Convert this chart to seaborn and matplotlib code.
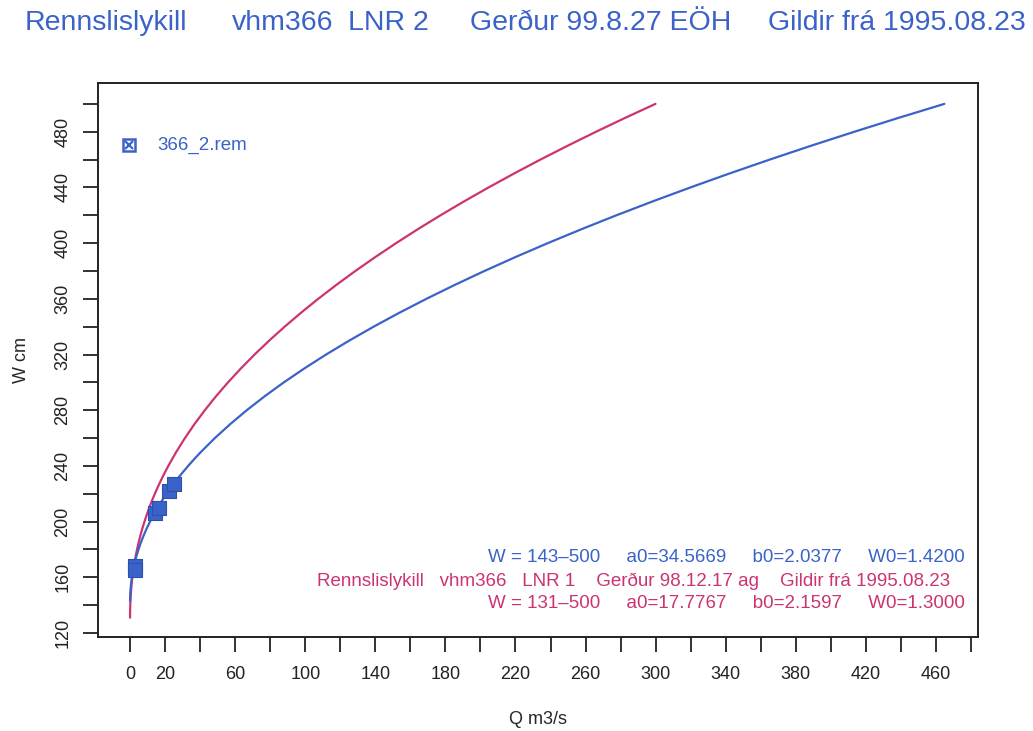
import numpy as np
import pandas as pd
import matplotlib
matplotlib.use('Agg')
import matplotlib.pyplot as plt
import seaborn as sns
from matplotlib.ticker import MultipleLocator, FixedLocator

# Rating curve LNR 2 (blue), W in cm, Q in m3/s
w_lnr2 = [143, 144, 145, 147, 150, 152, 155, 157, 160, 165, 170, 175, 180, 185, 190,
          195, 200, 205, 210, 215, 220, 225, 230, 235, 240, 245, 250, 260, 270, 280,
          290, 300, 310, 320, 330, 340, 350, 360, 370, 380, 390, 400, 410, 420, 430,
          440, 450, 460, 470, 480, 490, 500]
q_lnr2 = [0.003, 0.012, 0.027, 0.077, 0.20, 0.32, 0.54, 0.73, 1.05, 1.73, 2.58, 3.61,
          4.81, 6.19, 7.75, 9.48, 11.39, 13.48, 15.75, 18.20, 20.84, 23.65, 26.64,
          29.82, 33.17, 36.71, 40.44, 48.43, 57.16, 66.64, 76.84, 87.79, 99.49,
          111.93, 125.12, 139.06, 153.74, 169.17, 185.38, 202.31, 220.01, 238.47,
          257.68, 277.63, 298.37, 319.87, 342.13, 365.14, 388.9, 413.45, 438.76, 464.8]

# Rating curve LNR 1 (red)
w_lnr1 = [131, 132, 133, 135, 140, 145, 150, 155, 160, 165, 170, 175, 180, 185, 190,
          195, 200, 205, 210, 215, 220, 225, 230, 235, 240, 250, 260, 270, 280, 290,
          300, 310, 320, 330, 340, 350, 360, 370, 380, 390, 400, 410, 420, 430, 440,
          450, 460, 470, 480, 490, 500]
q_lnr1 = [0.001, 0.004, 0.009, 0.028, 0.12, 0.30, 0.55, 0.89, 1.32, 1.84, 2.46, 3.17,
          3.98, 4.89, 5.90, 7.01, 8.23, 9.55, 10.98, 12.51, 14.16, 15.91, 17.78,
          19.75, 21.84, 26.35, 31.33, 36.77, 42.67, 49.06, 55.92, 63.27, 71.10,
          79.43, 88.26, 97.59, 107.41, 117.75, 128.61, 139.99, 151.88, 164.27,
          177.22, 190.68, 204.67, 219.19, 234.25, 249.87, 265.99, 282.68, 299.9]

# Measurements (366_2.rem)
meas_q = [2.6, 2.9, 14.4, 16.7, 22.4, 25.3]
meas_w = [168, 165, 206, 210, 222, 227]

blue = '#3a62c8'
red = '#cc3372'

sns.set_style('white')
plt.rcParams['font.family'] = ['Liberation Sans', 'DejaVu Sans']

fig = plt.figure(figsize=(10.33, 7.31), dpi=100)
ax = fig.add_axes([98 / 1033, 1 - 637 / 731, 880 / 1033, 554 / 731])

df2 = pd.DataFrame({'Q': q_lnr2, 'W': w_lnr2})
df1 = pd.DataFrame({'Q': q_lnr1, 'W': w_lnr1})
dfm = pd.DataFrame({'Q': meas_q, 'W': meas_w})

sns.lineplot(data=df1, x='Q', y='W', sort=False, estimator=None, color=red, lw=1.6, ax=ax)
sns.lineplot(data=df2, x='Q', y='W', sort=False, estimator=None, color=blue, lw=1.6, ax=ax)
sns.scatterplot(data=dfm, x='Q', y='W', marker='s', s=105, color=blue, edgecolor='#2a50b0',
                linewidth=0.8, ax=ax, zorder=5)

ax.set_xlim(-18.3, 484)
ax.set_ylim(117.1, 515)

ax.xaxis.set_major_locator(FixedLocator([0, 20] + list(range(60, 461, 40))))
ax.xaxis.set_minor_locator(FixedLocator(list(range(40, 481, 40))))
ax.yaxis.set_major_locator(MultipleLocator(40))
ax.yaxis.set_minor_locator(FixedLocator(list(range(140, 501, 40))))
ax.tick_params(axis='both', which='both', direction='out', length=11, width=1.3,
               colors='#222222', labelsize=13, left=True, bottom=True)
ax.tick_params(axis='x', pad=10)
ax.tick_params(axis='y', pad=8)
for lab in ax.get_yticklabels():
    lab.set_rotation(90)
    lab.set_va('center')

for sp in ax.spines.values():
    sp.set_color('#222222')
    sp.set_linewidth(1.4)

ax.set_xlabel('Q m3/s', fontsize=13, labelpad=20)
ax.set_ylabel('W cm', fontsize=13, labelpad=18)

# legend entry for measurements
ax.plot([0.035], [0.888], transform=ax.transAxes, marker='s', ms=9, mfc='white',
        mec=blue, mew=1.8, ls='none')
ax.plot([0.035], [0.888], transform=ax.transAxes, marker='x', ms=6, mec=blue, mew=1.6, ls='none')
ax.text(0.068, 0.888, '366_2.rem', transform=ax.transAxes, color=blue, fontsize=13.5, va='center')

# parameter block
ax.text(965 / 1033, 1 - 558 / 731, 'W = 143\u2013500     a0=34.5669     b0=2.0377     W0=1.4200',
        transform=fig.transFigure, color=blue, fontsize=13.5, ha='right', va='center')
ax.text(950 / 1033, 1 - 581 / 731,
        'Rennslislykill   vhm366   LNR 1    Ger\u00f0ur 98.12.17 ag    Gildir fr\u00e1 1995.08.23',
        transform=fig.transFigure, color=red, fontsize=13.5, ha='right', va='center')
ax.text(965 / 1033, 1 - 604 / 731, 'W = 131\u2013500     a0=17.7767     b0=2.1597     W0=1.3000',
        transform=fig.transFigure, color=red, fontsize=13.5, ha='right', va='center')

# title pieces
title_parts = [('Rennslislykill', 25), ('vhm366', 232), ('LNR 2', 348),
               ('Ger\u00f0ur 99.8.27 E\u00d6H', 470), ('Gildir fr\u00e1 1995.08.23', 768)]
for txt, x in title_parts:
    fig.text(x / 1033, 1 - 23 / 731, txt, color=blue, fontsize=20.5, ha='left', va='center')

fig.savefig('out.png', dpi=100)
